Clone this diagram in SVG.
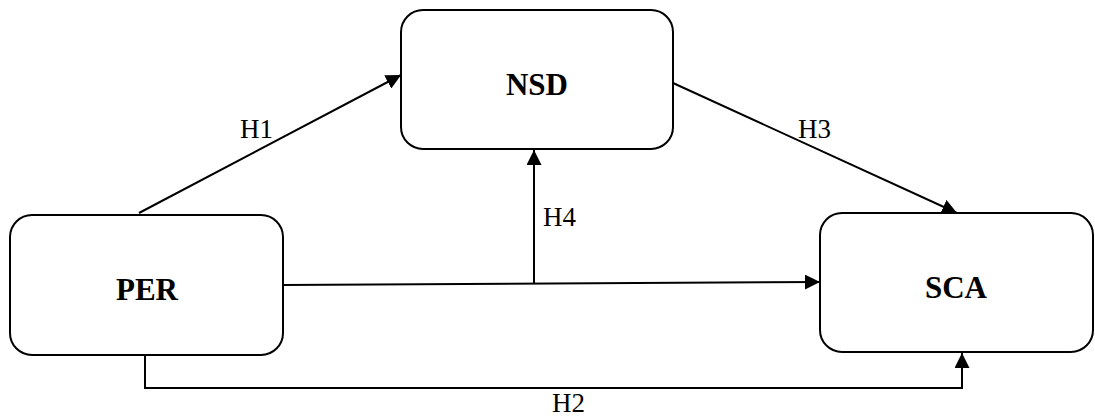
<svg xmlns="http://www.w3.org/2000/svg" width="1095" height="418" viewBox="0 0 1095 418">
<style>
.box{fill:#fff;stroke:#000;stroke-width:2}
.nl{font-family:"Liberation Serif","Times New Roman",serif;font-weight:bold;font-size:31px;text-anchor:middle;fill:#000}
.el{font-family:"Liberation Serif","Times New Roman",serif;font-size:27px;fill:#000}
.c{fill:none;stroke:#000;stroke-width:2}
</style>
<defs>
<marker id="ah" markerUnits="userSpaceOnUse" markerWidth="15" markerHeight="15" refX="15" refY="7.5" orient="auto">
<path d="M0,0 L15,7.5 L0,15 z" fill="#000"/>
</marker>
</defs>
<rect width="1095" height="418" fill="#fff"/>
<g id="connectors">
<line class="c" x1="139" y1="213" x2="401" y2="75" marker-end="url(#ah)"/>
<line class="c" x1="673" y1="83" x2="957" y2="213" marker-end="url(#ah)"/>
<line class="c" x1="283" y1="285" x2="820" y2="282" marker-end="url(#ah)"/>
<line class="c" x1="534" y1="283" x2="534" y2="150" marker-end="url(#ah)"/>
<polyline class="c" points="145,355 145,388 962,388 962,353" marker-end="url(#ah)"/>
<text class="el" x="240" y="138">H1</text>
<text class="el" x="798" y="138">H3</text>
<text class="el" x="543" y="226">H4</text>
<text class="el" x="552" y="412">H2</text>
</g>
<g id="PER">
<rect class="box" x="10" y="215" width="273" height="140" rx="22" ry="22"/>
<text class="nl" x="147" y="300">PER</text>
</g>
<g id="NSD">
<rect class="box" x="401" y="10" width="272" height="139" rx="22" ry="22"/>
<text class="nl" x="537" y="95">NSD</text>
</g>
<g id="SCA">
<rect class="box" x="820" y="213" width="273" height="139" rx="22" ry="22"/>
<text class="nl" x="956" y="298">SCA</text>
</g>
</svg>
